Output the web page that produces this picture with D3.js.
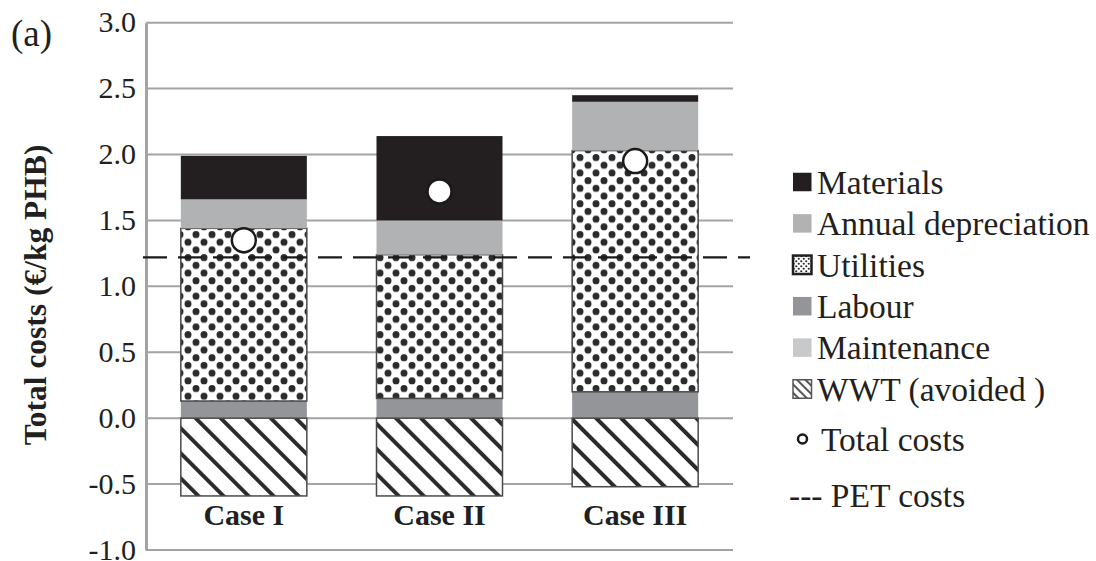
<!DOCTYPE html>
<html>
<head>
<meta charset="utf-8">
<script src="https://cdn.jsdelivr.net/npm/d3@7"></script>
<style>
  html, body { margin: 0; padding: 0; background: #fff; }
  svg { display: block; }
  text { font-family: "Liberation Serif", "Times New Roman", serif; fill: #231f20; }
</style>
</head>
<body>
<svg id="chart" width="1096" height="561"></svg>
<script>
// Cost breakdown per case (€/kg PHB)
const categories = ["Case I", "Case II", "Case III"];
const maintenance = [0, 0, 0];
const labour = [0.13, 0.15, 0.20];
const utilities = [1.31, 1.09, 1.83];
const depreciation = [0.22, 0.26, 0.37];
const materials = [0.33, 0.64, 0.05];
const wwtAvoided = [-0.59, -0.59, -0.52];
const totalCosts = [1.35, 1.72, 1.95];
const petCost = 1.22;
const yTicks = [-1.0, -0.5, 0.0, 0.5, 1.0, 1.5, 2.0, 2.5, 3.0];

const legendItems = [
  { label: "Materials", kind: "solid", fill: "#231f20" },
  { label: "Annual depreciation", kind: "solid", fill: "#b1b2b4" },
  { label: "Utilities", kind: "dots" },
  { label: "Labour", kind: "solid", fill: "#939598" },
  { label: "Maintenance", kind: "solid", fill: "#c8c9cb" },
  { label: "WWT (avoided )", kind: "hatch" }
];

const keys = ["maintenance", "labour", "utilities", "depreciation", "materials"];
const rows = categories.map((c, i) => ({
  category: c,
  maintenance: maintenance[i],
  labour: labour[i],
  utilities: utilities[i],
  depreciation: depreciation[i],
  materials: materials[i],
  wwt: wwtAvoided[i],
  total: totalCosts[i]
}));

const fills = {
  maintenance: "#c8c9cb",
  labour: "#939598",
  utilities: "url(#dots)",
  depreciation: "#b1b2b4",
  materials: "#231f20"
};

const svg = d3.select("#chart");
const defs = svg.append("defs");

// Dotted fill for utilities
const dots = defs.append("pattern").attr("id", "dots")
  .attr("patternUnits", "userSpaceOnUse").attr("width", 16).attr("height", 15.4);
dots.append("rect").attr("width", 16).attr("height", 15.4).attr("fill", "#fff");
[[4, 3.5], [12, 11.2], [-4, 11.2], [20, 3.5], [4, 18.9], [12, -4.2]].forEach(([cx, cy]) => {
  dots.append("circle").attr("cx", cx).attr("cy", cy).attr("r", 3.5).attr("fill", "#2b2b2b");
});

// Small dotted fill for the legend swatch
const dotsSmall = defs.append("pattern").attr("id", "dotsSmall")
  .attr("patternUnits", "userSpaceOnUse").attr("width", 5).attr("height", 5);
dotsSmall.append("rect").attr("width", 5).attr("height", 5).attr("fill", "#fff");
[[1.25, 1.25], [3.75, 3.75]].forEach(([cx, cy]) => {
  dotsSmall.append("circle").attr("cx", cx).attr("cy", cy).attr("r", 1.1).attr("fill", "#2b2b2b");
});

// Diagonal hatch for avoided wastewater treatment
const hatch = defs.append("pattern").attr("id", "hatch")
  .attr("patternUnits", "userSpaceOnUse").attr("width", 17.7).attr("height", 17.7)
  .attr("patternTransform", "rotate(-45)");
hatch.append("rect").attr("width", 17.7).attr("height", 17.7).attr("fill", "#fff");
hatch.append("line").attr("x1", 2).attr("x2", 2).attr("y1", 0).attr("y2", 17.7)
  .attr("stroke", "#2b2b2b").attr("stroke-width", 4);

const hatchSmall = defs.append("pattern").attr("id", "hatchSmall")
  .attr("patternUnits", "userSpaceOnUse").attr("width", 6).attr("height", 6)
  .attr("patternTransform", "rotate(-45)");
hatchSmall.append("rect").attr("width", 6).attr("height", 6).attr("fill", "#fff");
hatchSmall.append("line").attr("x1", 1).attr("x2", 1).attr("y1", 0).attr("y2", 6)
  .attr("stroke", "#2b2b2b").attr("stroke-width", 1.6);

const plotLeft = 146, plotRight = 733;
const y = d3.scaleLinear().domain([-1, 3]).range([550, 22.7]);
const x = d3.scaleBand().domain(categories).range([plotLeft, plotRight]).padding(0);
const barWidth = x.bandwidth() * 0.644;
const barX = c => x(c) + (x.bandwidth() - barWidth) / 2;

// Gridlines
svg.append("g").selectAll("line").data(yTicks).join("line")
  .attr("x1", plotLeft).attr("x2", plotRight)
  .attr("y1", d => y(d)).attr("y2", d => y(d))
  .attr("stroke", "#a3a3a3").attr("stroke-width", 2);

// Y axis (tick labels use a plain hyphen for negatives)
const fmt = d3.format(".1f");
const yAxis = d3.axisLeft(y).tickValues(yTicks).tickSize(0).tickPadding(10)
  .tickFormat(d => fmt(d).replace("\u2212", "-"));
const yG = svg.append("g").attr("transform", `translate(${plotLeft},0)`).call(yAxis);
yG.select(".domain").attr("stroke", "#a3a3a3").attr("stroke-width", 3);
yG.selectAll("text").attr("font-size", 30)
  .style("font-family", "'Liberation Serif', serif").attr("fill", "#231f20")
  .attr("dy", "0.3em");

// Stacked positive segments
const stacked = d3.stack().keys(keys)(rows);
const segs = svg.append("g");
stacked.forEach(layer => {
  const key = layer.key;
  segs.append("g").selectAll("rect").data(layer).join("rect")
    .attr("x", d => barX(d.data.category))
    .attr("width", barWidth)
    .attr("y", d => y(d[1]))
    .attr("height", d => Math.max(0, y(d[0]) - y(d[1])))
    .attr("fill", fills[key])
    .attr("stroke", key === "utilities" ? "#4a4a4a" : "none")
    .attr("stroke-width", 1.5);
});

// Negative segment: avoided WWT
segs.append("g").selectAll("rect").data(rows).join("rect")
  .attr("x", d => barX(d.category))
  .attr("width", barWidth)
  .attr("y", y(0))
  .attr("height", d => y(d.wwt) - y(0))
  .attr("fill", "url(#hatch)")
  .attr("stroke", "#4a4a4a").attr("stroke-width", 1.5);

// PET reference cost
svg.append("line")
  .attr("x1", 143).attr("x2", 750)
  .attr("y1", y(petCost)).attr("y2", y(petCost))
  .attr("stroke", "#1a1a1a").attr("stroke-width", 2.2)
  .attr("stroke-dasharray", "24,11");

// Total cost markers
svg.append("g").selectAll("circle").data(rows).join("circle")
  .attr("cx", d => x(d.category) + x.bandwidth() / 2)
  .attr("cy", d => y(d.total))
  .attr("r", 12)
  .attr("fill", "#fff").attr("stroke", "#1a1a1a").attr("stroke-width", 2.5);

// Category labels
svg.append("g").selectAll("text").data(categories).join("text")
  .attr("x", c => x(c) + x.bandwidth() / 2)
  .attr("y", 525)
  .attr("text-anchor", "middle")
  .attr("font-size", 30).attr("font-weight", "bold")
  .text(c => c);

// Y axis title
svg.append("text")
  .attr("transform", "translate(46,295) rotate(-90)")
  .attr("text-anchor", "middle")
  .attr("font-size", 31.5).attr("font-weight", "bold")
  .text("Total costs (€/kg PHB)");

// Panel label
svg.append("text").attr("x", 11).attr("y", 46).attr("font-size", 37).text("(a)");

// Legend
const legend = svg.append("g");
const lx = 793, ly0 = 182, lstep = 41.4, sw = 18.5, lfs = 33.5;
legendItems.forEach((item, i) => {
  const cy = ly0 + i * lstep;
  const fill = item.kind === "dots" ? "url(#dotsSmall)" : item.kind === "hatch" ? "url(#hatchSmall)" : item.fill;
  const stroke = item.kind === "dots" ? "#231f20" : item.kind === "hatch" ? "#555" : "none";
  legend.append("rect")
    .attr("x", lx).attr("y", cy - sw / 2).attr("width", sw).attr("height", sw)
    .attr("fill", fill).attr("stroke", stroke)
    .attr("stroke-width", item.kind === "dots" ? 2.5 : 1.5);
  legend.append("text")
    .attr("x", 817).attr("y", cy).attr("dy", "0.35em")
    .attr("font-size", lfs).text(item.label);
});
legend.append("circle").attr("cx", 802.5).attr("cy", 439).attr("r", 4.5)
  .attr("fill", "#fff").attr("stroke", "#1a1a1a").attr("stroke-width", 2.5);
legend.append("text").attr("x", 821).attr("y", 439).attr("dy", "0.35em")
  .attr("font-size", lfs).text("Total costs");
legend.append("text").attr("x", 789).attr("y", 495).attr("dy", "0.35em")
  .attr("font-size", lfs).text("--- PET costs");
</script>
</body>
</html>
